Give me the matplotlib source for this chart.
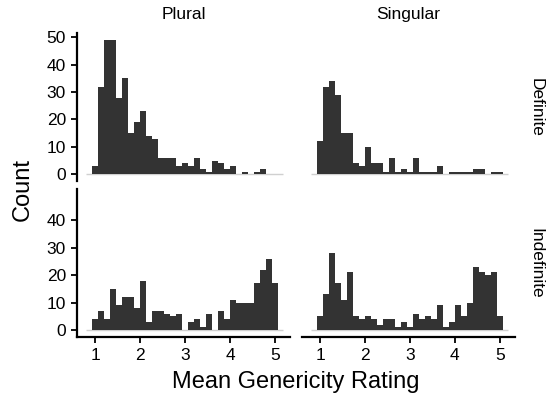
import matplotlib
matplotlib.use('Agg')
import matplotlib.pyplot as plt
import numpy as np

plt.rcParams['font.family'] = ['Liberation Sans', 'DejaVu Sans']

col_labels = ['Plural', 'Singular']
row_labels = ['Definite', 'Indefinite']
x_ticks = [1, 2, 3, 4, 5]
y_ticks_top = [0, 10, 20, 30, 40, 50]
y_ticks_bottom = [0, 10, 20, 30, 40]

bin_width = 4 / 30
bin_centers = 1 + bin_width * np.arange(31)

plural_definite = [3, 32, 49, 49, 28, 35, 15, 19, 23, 14, 13, 6, 6, 6, 3, 4, 3, 6, 2, 1,
                   5, 4, 2, 3, 0, 1, 0, 1, 2, 0, 0]
singular_definite = [12, 32, 34, 29, 15, 15, 4, 3, 10, 4, 4, 1, 6, 1, 2, 1, 6, 1, 1, 1,
                     3, 0, 1, 1, 1, 1, 2, 2, 0, 1, 1]
plural_indefinite = [4, 7, 4, 15, 9, 12, 12, 8, 18, 3, 7, 7, 6, 5, 6, 0, 3, 4, 1, 6,
                     0, 7, 4, 11, 10, 10, 10, 17, 22, 26, 17]
singular_indefinite = [5, 13, 28, 17, 11, 21, 5, 4, 5, 4, 2, 4, 4, 1, 3, 1, 6, 4, 5, 4,
                       9, 1, 3, 9, 5, 10, 23, 21, 20, 21, 5]

data = [[plural_definite, singular_definite],
        [plural_indefinite, singular_indefinite]]

W, H = 550, 398
fig = plt.figure(figsize=(W / 100, H / 100), dpi=100)

lefts = [77, 301.7]
tops = [33.3, 189]
pw, ph = 213, 147.7

xlim = (0.593, 5.33)
ylim = (-2.45, 51.45)
bar_color = '#333333'
tick_fs = 12.5
strip_fs = 12.5
title_fs = 17

for r in range(2):
    for c in range(2):
        ax = fig.add_axes([lefts[c] / W, 1 - (tops[r] + ph) / H, pw / W, ph / H])
        ax.hlines(0, 0.79, 5.18, color='#d0d0d0', lw=1.0, zorder=1)
        ax.bar(bin_centers, data[r][c], width=bin_width, color=bar_color,
               linewidth=0, zorder=2)
        ax.set_xlim(*xlim)
        ax.set_ylim(*ylim)
        for s in ['top', 'right', 'left', 'bottom']:
            ax.spines[s].set_visible(False)
        ax.tick_params(axis='both', labelsize=tick_fs, length=4, width=1.3,
                       color='black', pad=4)
        if c == 0:
            ax.spines['left'].set_visible(True)
            ax.spines['left'].set_linewidth(1.6)
            ax.set_yticks(y_ticks_top if r == 0 else y_ticks_bottom)
        else:
            ax.set_yticks([])
        if r == 1:
            ax.spines['bottom'].set_visible(True)
            ax.spines['bottom'].set_linewidth(1.6)
            ax.set_xticks(x_ticks)
        else:
            ax.set_xticks([])
        if r == 0:
            ax.set_title(col_labels[c], fontsize=strip_fs, pad=10)
        if c == 1:
            ax.text(1.1, 0.5, row_labels[r], transform=ax.transAxes,
                    rotation=-90, va='center', ha='center', fontsize=strip_fs)

fig.text(23 / W, 1 - 190 / H, 'Count', rotation=90, va='center', ha='center',
         fontsize=title_fs)
fig.text(296 / W, 1 - 382 / H, 'Mean Genericity Rating', va='center', ha='center',
         fontsize=title_fs)

fig.savefig('out.png', dpi=100)
